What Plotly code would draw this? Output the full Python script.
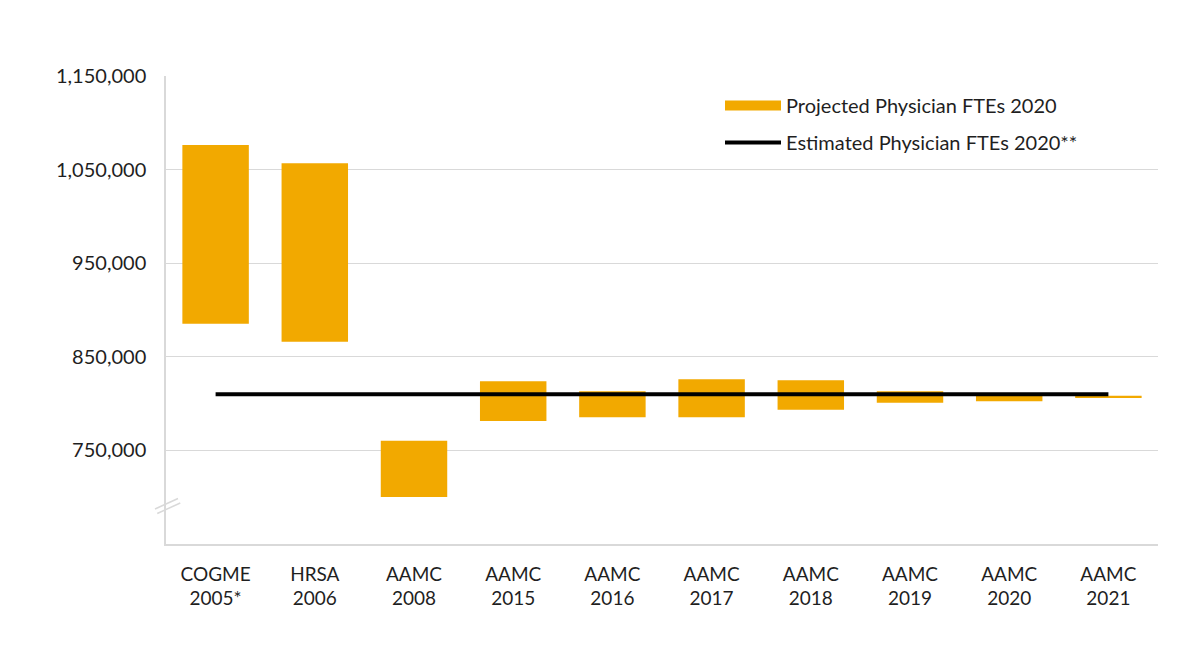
import plotly.graph_objects as go

categories = ["COGME<br>2005*", "HRSA<br>2006", "AAMC<br>2008", "AAMC<br>2015", "AAMC<br>2016",
              "AAMC<br>2017", "AAMC<br>2018", "AAMC<br>2019", "AAMC<br>2020", "AAMC<br>2021"]
proj_low = [885400, 866200, 700100, 781500, 785300, 785300, 793300, 800800, 802500, 806300]
proj_high = [1076300, 1056700, 760400, 823900, 813200, 826000, 825000, 813200, 811000, 808300]
estimated = [810000] * len(categories)
tick_vals = [750000, 850000, 950000, 1050000, 1150000]

ORANGE = "#F2A900"
GRID = "#D9D9D9"
TEXT = "#1F1F1F"
FONT = "Lato"

# plot-area geometry (page pixels, page has 8px body offset)
L, T, W, H = 158, 68, 992, 468

fig = go.Figure()

fig.add_trace(go.Bar(
    x=categories,
    y=[h - l for h, l in zip(proj_high, proj_low)],
    base=proj_low,
    marker=dict(color=ORANGE, line=dict(width=0)),
    name="Projected Physician FTEs 2020",
    showlegend=False,
))
# legend entry with a wide orange swatch
fig.add_trace(go.Scatter(
    x=[None], y=[None], mode="lines",
    line=dict(color=ORANGE, width=12),
    name="Projected Physician FTEs 2020",
    legendgroup="a",
))
fig.add_trace(go.Scatter(
    x=categories, y=estimated, mode="lines",
    line=dict(color="black", width=4),
    name="Estimated Physician FTEs 2020**",
    legendgroup="b",
))

# axis break marks (reference-pixel coordinates relative to plot area)
for d in (0, 4.5):
    fig.add_shape(type="line", xref="paper", yref="paper",
                  x0=(154 + d * 0.5 - 165) / W, y0=(544 - (509 + d)) / H,
                  x1=(177 + d * 0.5 - 165) / W, y1=(544 - (498.5 + d)) / H,
                  line=dict(color=GRID, width=1.5))

fig.update_layout(
    width=1200, height=666,
    margin=dict(l=L, r=1200 - L - W, t=T, b=666 - T - H),
    plot_bgcolor="white", paper_bgcolor="white",
    font=dict(family=FONT, size=20, color=TEXT),
    bargap=0.33,
    showlegend=True,
    legend=dict(x=(719 - 165) / W, y=(544 - 86) / H, xanchor="left", yanchor="top",
                bgcolor="rgba(0,0,0,0)", font=dict(size=20, color=TEXT, family=FONT),
                itemwidth=56, tracegroupgap=8, traceorder="grouped"),
    xaxis=dict(showline=True, linecolor=GRID, linewidth=1.5, showgrid=False,
               ticks="", tickfont=dict(size=19, color=TEXT), ticklabelstandoff=12),
    yaxis=dict(range=[650000, 1150000], tickvals=tick_vals, tickformat=",",
               showgrid=True, gridcolor=GRID, gridwidth=1,
               showline=True, linecolor=GRID, linewidth=1.5,
               zeroline=False, ticks="", ticklen=0, ticklabelstandoff=14,
               tickfont=dict(size=20, color=TEXT)),
)

fig.write_html("out.html")
